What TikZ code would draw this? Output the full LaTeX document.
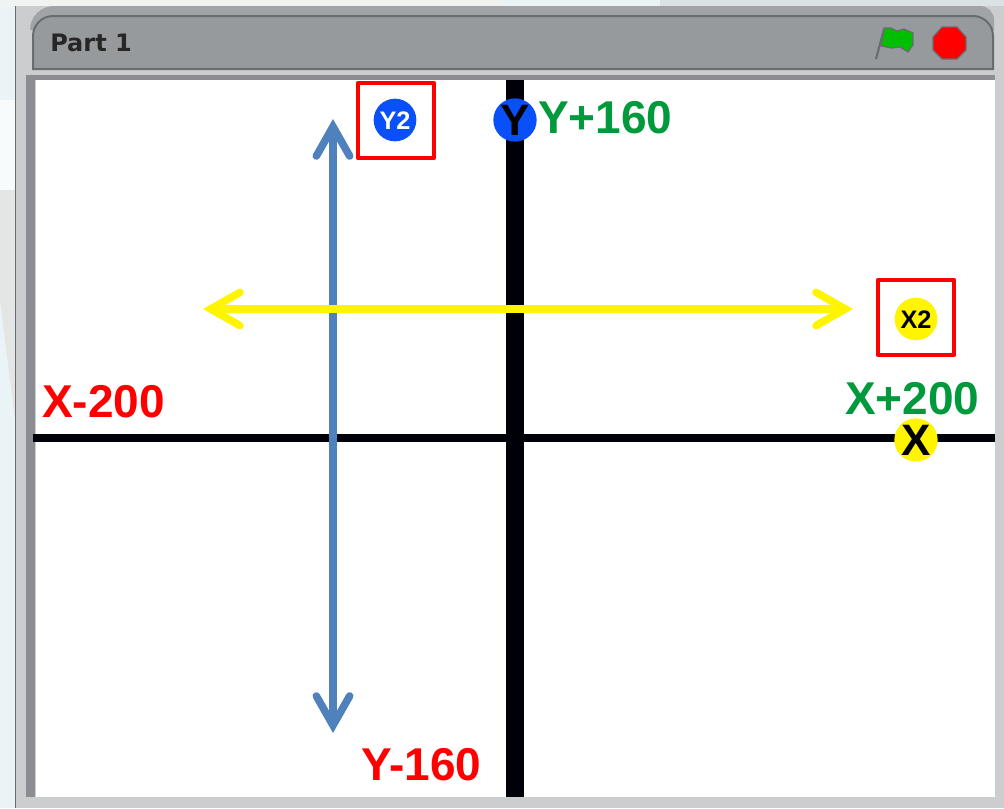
\documentclass[tikz,border=0pt]{standalone}
\usepackage{fontspec}
\setmainfont{Liberation Sans}
\newfontfamily\titlefont{DejaVu Sans}
\usetikzlibrary{arrows.meta}

\definecolor{cbacking}{RGB}{234,244,247}
\definecolor{cpale}{RGB}{228,229,229}
\definecolor{cframe}{RGB}{203,205,207}
\definecolor{cstrip}{RGB}{138,141,146}
\definecolor{cedge}{RGB}{104,108,112}
\definecolor{cband}{RGB}{160,164,167}
\definecolor{cbar}{RGB}{150,154,157}
\definecolor{cgreen}{RGB}{0,153,60}
\definecolor{cred}{RGB}{255,0,0}
\definecolor{cblue}{RGB}{10,80,250}
\definecolor{csteel}{RGB}{79,129,189}
\definecolor{cyellow}{RGB}{255,245,0}
\definecolor{cflag}{RGB}{0,190,0}
\definecolor{caxis}{RGB}{0,0,8}

\newcommand{\spritetext}[1]{\smash{\makebox[0pt]{\raisebox{-0.36em}{#1}}}}

\begin{document}
\begin{tikzpicture}[x=0.75pt,y=-0.75pt,
        bound/.style={draw=cred,line width=3.3pt,line join=round,minimum size=56.6pt,inner sep=0pt},
        sprite/.style={circle,inner sep=0pt,minimum size=32.5pt,font=\bfseries\fontsize{33}{33}\selectfont},
        spritesmall/.style={circle,inner sep=0pt,minimum size=32pt,font=\bfseries\fontsize{19}{19}\selectfont},
        setlab/.style={font=\bfseries\fontsize{34.5}{34.5}\selectfont,inner sep=0pt},
        span/.style={line width=5.7pt,line cap=round,line join=miter,{Straight Barb[line cap=round,line join=miter,length=22pt,width=25pt,line width=5.7pt]}-{Straight Barb[line cap=round,line join=miter,length=22pt,width=25pt,line width=5.7pt]}}]

      \useasboundingbox (0,0) rectangle (1004,808);
      % backing and window frame
      \fill[cbacking] (0,0) rectangle (1004,808);
      \fill[cbacking!40!white] (0,100) rectangle (15,190);
      \fill[cpale] (0,190) -- (15,190) -- (15,420) -- (0,300) -- cycle;
      \fill[cpale!50] (0,0) rectangle (500,6);
      \fill[cbacking!85!gray] (660,0) rectangle (1004,6);
      \fill[cframe] (15,6) rectangle (1004,808);
      \draw[cedge,line width=1pt] (15.5,6) -- (15.5,808);
      \fill[cband] (30,30) arc[start angle=180,end angle=270,radius=24] -- (980,6)
        arc[start angle=270,end angle=360,radius=14] -- (994,30) -- cycle;
      \fill[cstrip] (26,75) rectangle (35,797);
      \fill[cbar,draw=cedge,line width=1.5pt] (33,69) -- (33,36) arc[start angle=180,end angle=270,radius=20] -- (973,16)
        arc[start angle=270,end angle=360,radius=20] -- (993,69) -- cycle;
      \fill[cstrip] (28,75) rectangle (995,80);
      \fill[white] (36,80) rectangle (995,797);

      \node[inner sep=0pt,anchor=west,text=black!85,font=\titlefont\bfseries\fontsize{18}{18}\selectfont] (title) at (50,43) {Part 1};

      % flag and stop sign
      \fill[cflag,draw=cedge,line width=0.9pt] (884,28) -- (891,28) -- (897,31) -- (904,29) -- (913,33) -- (913,45) -- (908,52)
        -- (900,47) -- (892,48) -- (881,46) -- cycle;
      \draw[cedge,line width=1.6pt] (884,29) -- (876,59);
      \fill[cred,draw=cedge,line width=0.9pt] (942,27) -- (957,27) -- (966,37) -- (966,50) -- (957,59) -- (942,59)
        -- (933,50) -- (933,37) -- cycle;

      % axes
      \node[inner sep=0pt,minimum size=0pt] (xmin) at (33,438) {};
      \node[inner sep=0pt,minimum size=0pt] (xmax) at (995,438) {};
      \node[inner sep=0pt,minimum size=0pt] (ymin) at (515,797) {};
      \node[inner sep=0pt,minimum size=0pt] (ymax) at (515,80) {};
      \draw[caxis,line width=6pt] (xmin) -- (xmax);
      \draw[caxis,line width=13.5pt] (ymin) -- (ymax);

      % ranges
      \coordinate (left) at (203,309);
      \coordinate (right) at (853,309);
      \coordinate (top) at (333,119);
      \coordinate (bottom) at (333,733);
      \draw[span,csteel] (bottom) -- (top);
      \draw[span,cyellow] (left) -- (right);

      % sprites
      \node[bound] (boxy) at (396,120.5) {};
      \node[bound] (boxx) at (916,317.5) {};
      \node[spritesmall,fill=cblue,text=white] (ytwo) at (395,120) {\spritetext{Y2}};
      \node[spritesmall,fill=cyellow,text=black] (xtwo) at (916,319) {\spritetext{X2}};
      \node[sprite,fill=cblue,text=black] (ysprite) at (515,120) {\spritetext{Y}};
      \node[sprite,fill=cyellow,text=black] (xsprite) at (916,440) {\spritetext{X}};

      \node[setlab,text=cgreen,anchor=west] (ypos) at (538,118) {Y+160};
      \node[setlab,text=cgreen,anchor=west] (xpos) at (845,399) {X+200};
      \node[setlab,text=cred,anchor=west] (xneg) at (42,402) {X-200};
      \node[setlab,text=cred,anchor=west] (yneg) at (361,765) {Y-160};
    \end{tikzpicture}
\end{document}
